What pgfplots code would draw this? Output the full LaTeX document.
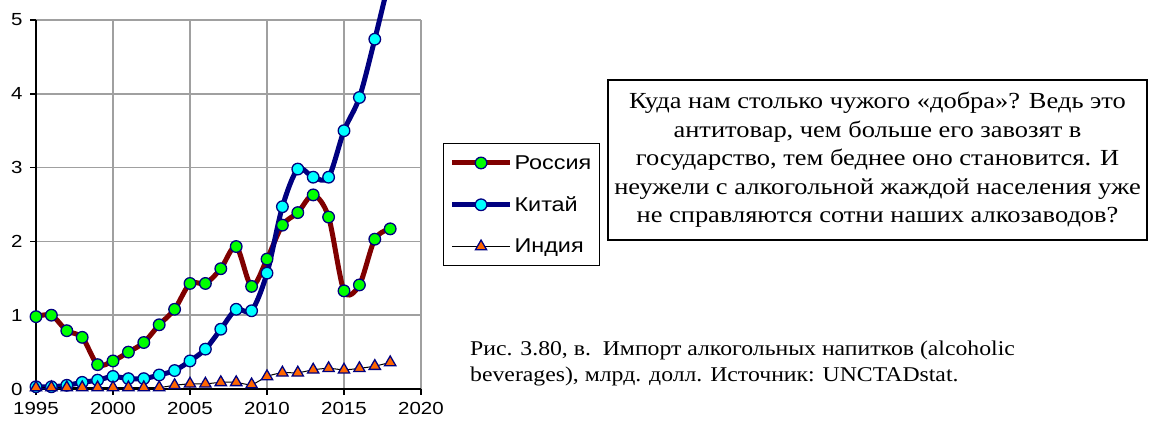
\documentclass[border=0pt]{standalone}
\usepackage{pgfplots}
\pgfplotsset{compat=1.18}
\usepackage{fontspec}
\setmainfont{Liberation Sans}[FakeStretch=1.17]
\newfontfamily\serifA{Liberation Serif}[FakeStretch=1.15]
\newfontfamily\serifB{Liberation Serif}[FakeStretch=1.13]
\definecolor{rus}{RGB}{128,0,0}
\definecolor{nav}{RGB}{0,0,128}
\definecolor{grn}{RGB}{0,255,0}
\definecolor{cyn}{RGB}{0,255,255}
\definecolor{org}{RGB}{255,102,0}
\definecolor{grd}{RGB}{160,160,160}
\begin{document}
\begin{tikzpicture}
\clip (0,0) rectangle (1159pt,425pt);
\begin{axis}[
  scale only axis, width=385pt, height=369pt, at={(36pt,36pt)}, anchor=south west,
  xmin=1995, xmax=2020, ymin=0, ymax=5,
  xtick={1995,2000,...,2020}, ytick={0,1,...,5},
  axis x line*=bottom, axis y line*=left,
  axis line style={-, black, line width=1.6pt},
  grid=major, major grid style={grd, line width=1.5pt},
  tick align=outside, major tick length=6pt, tick style={black, line width=1.6pt},
  tick label style={font=\fontsize{17.5}{17.5}\selectfont},
  xticklabel style={yshift=-4pt},
  yticklabel style={xshift=-4pt},
  /pgf/number format/1000 sep={}, /pgf/number format/assume math mode=true,
  clip=false,
  legend style={at={(1.057,0.666)}, anchor=north west, draw=black, line width=1.2pt,
    font=\fontsize{20}{20}\selectfont, row sep=22pt, inner xsep=6pt, inner ysep=9.5pt,
    cells={anchor=west}},
  legend image code/.code={\draw[mark repeat=2,mark phase=2,#1] plot coordinates {(0pt,0pt) (29pt,0pt) (58pt,0pt)};},
]
\addplot[color=rus, line width=5pt, smooth, mark=*, mark size=5.8pt,
  mark options={solid, fill=grn, draw=nav, line width=1.3pt}] coordinates {
(1995,0.98) (1996,1.00) (1997,0.79) (1998,0.70) (1999,0.33) (2000,0.38)
(2001,0.50) (2002,0.63) (2003,0.87) (2004,1.08) (2005,1.43) (2006,1.43)
(2007,1.63) (2008,1.93) (2009,1.39) (2010,1.76) (2011,2.22) (2012,2.39)
(2013,2.63) (2014,2.33) (2015,1.33) (2016,1.41) (2017,2.03) (2018,2.17)};
\addlegendentry{Россия}
\addplot[color=nav, line width=5pt, smooth, mark=*, mark size=5.8pt,
  mark options={solid, fill=cyn, draw=nav, line width=1.3pt}] coordinates {
(1995,0.03) (1996,0.03) (1997,0.05) (1998,0.09) (1999,0.12) (2000,0.17)
(2001,0.14) (2002,0.14) (2003,0.19) (2004,0.25) (2005,0.38) (2006,0.54)
(2007,0.81) (2008,1.08) (2009,1.06) (2010,1.57) (2011,2.47) (2012,2.98)
(2013,2.87) (2014,2.87) (2015,3.50) (2016,3.95) (2017,4.74) (2018,5.60)};
\addlegendentry{Китай}
\addplot[color=black, line width=1pt, smooth, mark=triangle*, mark size=6.5pt,
  mark options={solid, fill=org, draw=nav, line width=1.3pt}] coordinates {
(1995,0.02) (1996,0.02) (1997,0.02) (1998,0.02) (1999,0.02) (2000,0.02)
(2001,0.02) (2002,0.02) (2003,0.02) (2004,0.05) (2005,0.07) (2006,0.07)
(2007,0.09) (2008,0.09) (2009,0.06) (2010,0.17) (2011,0.22) (2012,0.22)
(2013,0.26) (2014,0.28) (2015,0.26) (2016,0.28) (2017,0.31) (2018,0.36)};
\addlegendentry{Индия}
\end{axis}
\node[draw=black, line width=1.2pt, minimum width=539pt, minimum height=160pt,
  align=center, inner sep=0pt, font=\serifA\fontsize{23}{28.5}\selectfont]
  at (877.5pt,265pt) {Куда нам столько чужого «добра»? Ведь это\\
антитовар, чем больше его завозят в\\
государство, тем беднее оно становится. И\\
неужели с алкогольной жаждой населения уже\\
не справляются сотни наших алкозаводов?};
\node[anchor=north west, align=left, inner sep=0pt, font=\serifB\fontsize{21}{26}\selectfont]
  at (470pt,84pt) {Рис. 3.80, в.\ \ Импорт алкогольных напитков (alcoholic\\
beverages), млрд. долл. Источник: UNCTADstat.};
\end{tikzpicture}
\end{document}
